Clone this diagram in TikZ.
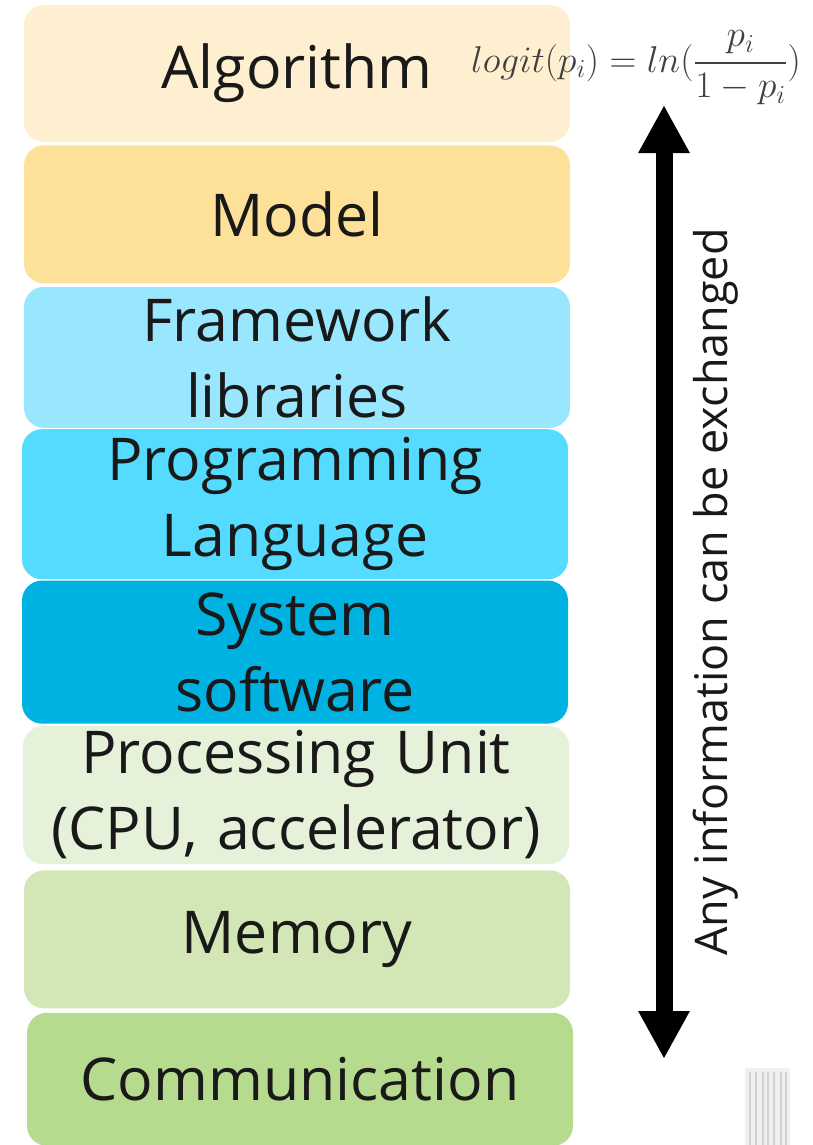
\documentclass[tikz,border=0pt]{standalone}
\usepackage{amsmath}
\usepackage{fontspec}
\setmainfont{Open Sans}
\usetikzlibrary{arrows.meta, positioning}
\definecolor{algoCol}{HTML}{FEEFD0}
\definecolor{modelCol}{HTML}{FEE199}
\definecolor{frameCol}{HTML}{99E6FF}
\definecolor{langCol}{HTML}{55DBFF}
\definecolor{sysCol}{HTML}{00B2E1}
\definecolor{cpuCol}{HTML}{E6F1DA}
\definecolor{memCol}{HTML}{D3E6B5}
\definecolor{commCol}{HTML}{B7DB8E}
\tikzset{
    >=Latex,
    layer/.style={
        rectangle,
        rounded corners=20pt,
        draw=none,
        minimum width=546pt,
        minimum height=138pt,
        text width=540pt,
        align=center,
        inner sep=0pt,
        font=\fontsize{59}{76}\selectfont,
        text=black!90
    },
    exchange_arrow/.style={
        {Triangle[width=48pt, length=48pt]}-{Triangle[width=48pt, length=48pt]},
        line width=17pt
    },
    side_label/.style={
        rotate=90,
        font=\fontsize{45}{50}\selectfont,
        text=black!90
    }
}

\begin{document}
\begin{tikzpicture}[x=1pt, y=-1pt]
\useasboundingbox (0,0) rectangle (812,1145);

% --- Layers ---
\node[layer, fill=algoCol, minimum height=137pt] (Algo) at (297,73.5) {Algorithm};
\node[layer, fill=modelCol, below=3pt of Algo] (Model) {Model};
\node[layer, fill=frameCol, minimum height=141pt, below=3pt of Model] (Frame) {Framework\\libraries};
\node[layer, fill=langCol, minimum height=150pt, below=1pt of Frame, xshift=-2pt] (Lang) {Programming\\Language};
\node[layer, fill=sysCol, minimum height=143pt, below=1pt of Lang] (Sys) {System\\software};
\node[layer, fill=cpuCol, below=2pt of Sys, xshift=1pt] (CPU) {Processing Unit\\(CPU, accelerator)};
\node[layer, fill=memCol, below=6pt of CPU, xshift=1pt] (Mem) {Memory};
\node[layer, fill=commCol, minimum height=133pt, below=4pt of Mem, xshift=3pt] (Comm) {Communication};

% --- Formula ---
\node[text=black!75, font=\fontsize{24}{28}\selectfont, inner sep=0pt,
      scale=1.5, transform shape] (Logit) at (636,68)
    {$logit(p_i) = ln(\dfrac{p_i}{1-p_i})$};

% --- Exchange arrow ---
\coordinate (ArrTop) at (664,105);
\coordinate (ArrBot) at (664,1059);
\draw[exchange_arrow] (ArrTop) -- (ArrBot);
\node[side_label] (Exch) at (716,592) {Any information can be exchanged};

% --- Faint thumbnail ---
\fill[gray!12] (745,1068) rectangle (790,1145);
\foreach \x in {750,756,763,768,774,781,786}
    \draw[gray!35, line width=1.5pt] (\x,1072) -- (\x,1145);

\end{tikzpicture}
\end{document}
